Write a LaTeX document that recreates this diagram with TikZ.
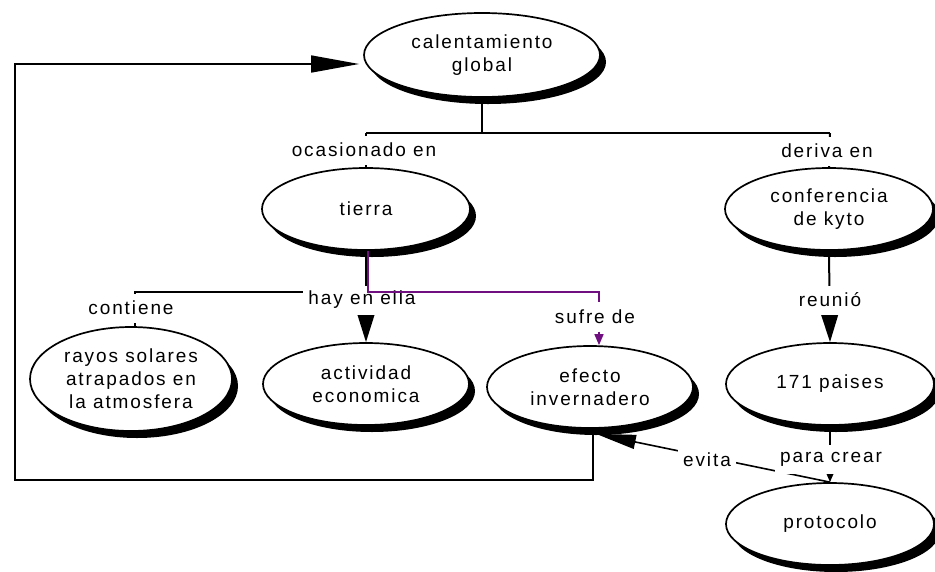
\documentclass[tikz,border=0pt]{standalone}
\usepackage{fontspec}
\setmainfont{Liberation Sans}[LetterSpace=10]
\usetikzlibrary{shapes.geometric,shadows,arrows.meta}
\definecolor{linkpurple}{RGB}{112,16,128}
\pgfdeclarelayer{back}
\pgfsetlayers{back,main}

\begin{document}
\begin{tikzpicture}[x=1pt,y=-1pt,
  every node/.style={font=\fontsize{19}{23}\selectfont},
  concept/.style={ellipse,draw=black,line width=1.7pt,fill=white,inner sep=0pt,
    minimum width=208pt,minimum height=82pt,align=center,
    drop shadow={shadow xshift=6pt,shadow yshift=-7pt,fill=black,opacity=1}},
  linklabel/.style={fill=white,inner xsep=5pt,inner ysep=1pt,minimum height=29pt},
  link/.style={line width=2pt,draw=black},
  thinlink/.style={line width=1.6pt,draw=black},
  purplelink/.style={line width=1.6pt,draw=linkpurple},
  bigtip/.style={-{Triangle[length=28pt,width=17pt]}},
  smalltip/.style={-{Triangle[length=10pt,width=8pt]}}
]
\useasboundingbox (0,0) rectangle (935,571);

% concepts
\node[concept,minimum width=236pt,minimum height=84pt] (cg) at (482,55) {calentamiento\\global};
\node[concept] (ti) at (366,209) {tierra};
\node[concept] (ck) at (829,209) {conferencia\\de kyto};
\node[concept,minimum width=202pt,minimum height=104pt] (ra) at (131,379) {rayos solares\\atrapados en\\la atmosfera};
\node[concept,minimum width=206pt] (ac) at (366,384) {actividad\\economica};
\node[concept,minimum width=206pt] (ef) at (590,387) {efecto\\invernadero};
\node[concept] (pa) at (830,384) {171 paises};
\node[concept] (pr) at (830,524) {protocolo};

% linking phrases
\node[linklabel] (lo) at (364,150) {ocasionado en};
\node[linklabel] (ld) at (827,151) {deriva en};
\node[linklabel] (lh) at (362,300) {hay en ella};
\node[linklabel] (lc) at (131,308) {contiene};
\node[linklabel] (ls) at (595,317) {sufre de};
\node[linklabel] (lr) at (830,300) {reunió};
\node[linklabel] (lp) at (831,459) {para crear};
\node[linklabel] (le) at (707,460) {evita};

% helper points
\coordinate (bl) at (366,133);
\coordinate (br) at (830,133);
\coordinate (hc) at (135,292);
\coordinate (pk) at (599,292);
\coordinate (lp1) at (15,480);
\coordinate (lp2) at (15,64);

\begin{pgfonlayer}{back}
  % top branching bar
  \draw[link,line width=2.6pt] (cg.south) -- (cg.south |- bl);
  \draw[link] (bl) -- (br);
  \draw[link] (bl) -- (ti.north);
  \draw[link] (br) -- (ck.north);
  % tierra
  \draw[link,bigtip] (ti.south) -- (ac.north);
  \draw[link] (ti.south |- hc) -- (hc) -- (hc |- ra.north);
  % kyoto chain
  \draw[link,bigtip] (ck.south) -- (pa.north);
  \draw[link,smalltip] (pa.south) -- (pr.north);
  % protocolo avoids the greenhouse effect
  \draw[thinlink,-{Triangle[length=40pt,width=14pt]}] (pr.north) -- ([xshift=6pt,yshift=-5pt]ef.south);
  % feedback loop back to global warming
  \draw[thinlink,-{Triangle[length=48pt,width=17pt]},shorten >=4pt]
    ([xshift=3pt]ef.south) |- (lp1) -- (lp2) -- ([yshift=-9pt]cg.west);
\end{pgfonlayer}

% purple link from tierra to efecto invernadero
\draw[purplelink] ([xshift=2pt]ti.south) -- ([xshift=2pt]ti.south |- pk) -- (pk) -- (pk |- ls.north);
\draw[purplelink,-{Triangle[length=11pt,width=9pt]}] (pk |- ls.south) -- (pk |- ef.north);
\end{tikzpicture}
\end{document}
